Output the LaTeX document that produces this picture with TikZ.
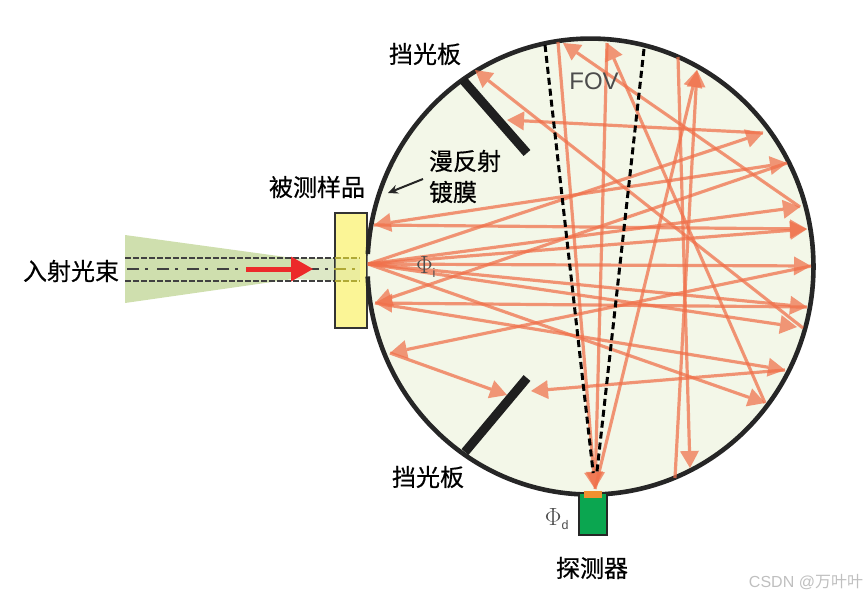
\documentclass[tikz,border=0pt]{standalone}
\usepackage{fontspec}
\setmainfont{Liberation Sans}
\newfontfamily\cjk[RawFeature={embolden=0.5}]{Noto Sans CJK SC}
\newfontfamily\cjkplain{Noto Sans CJK SC}
\usetikzlibrary{arrows.meta, positioning}
\definecolor{raycol}{HTML}{F0704A}
\definecolor{wallcol}{HTML}{262626}
\definecolor{spherecol}{HTML}{F3F7E8}
\definecolor{beamcol}{HTML}{CFDFAE}
\definecolor{samplecol}{HTML}{FBF596}
\definecolor{sensorcol}{HTML}{0BA650}
\definecolor{stripcol}{HTML}{F09030}
\definecolor{redcol}{HTML}{EC2A2A}
\tikzset{
  lbl/.style={inner sep=0pt, font=\fontsize{24}{28}\selectfont\cjk, text=black},
  sym/.style={inner sep=0pt, font=\fontsize{25}{28}\selectfont, text=black!70},
  wall/.style={draw=wallcol, line width=4.6pt},
  baffle/.style={draw=black!88, line width=9pt},
  ray/.style={draw=raycol, line width=3.2pt, draw opacity=.72, fill=raycol, fill opacity=.72,
              >={Triangle[length=17pt,width=19pt,line width=0pt]}},
  fov/.style={draw=black, line width=3pt, dash pattern=on 7pt off 4pt},
  guide/.style={draw=black!75, line width=2.6pt, dash pattern=on 6pt off 2pt},
  axisline/.style={line width=2.6pt, dash pattern=on 12pt off 6pt on 3pt off 9pt},
  sample/.style={draw=black!80, fill=samplecol, line width=2pt, minimum width=32pt,
                 minimum height=115pt, inner sep=0pt},
  sensor/.style={draw=black!85, fill=sensorcol, line width=2pt, minimum width=28pt,
                 minimum height=42pt, inner sep=0pt},
  strip/.style={fill=stripcol, minimum width=18pt, minimum height=7pt, inner sep=0pt}
}
\begin{document}
\begin{tikzpicture}[x=1pt, y=-1pt]
  \useasboundingbox (0,0) rectangle (865,597);
  \coordinate (s) at (368,264);
  \coordinate (d) at (595,489);
  \foreach \n/\x/\y in {pA/563/43, pB/607/43, pC/697/70, pD/678/57, pE/475/70, pF/507/120,
      pG/763/133, pH/787/163, pI/800/207, pJ/807/229, pK/811/266, pL/807/307, pM/803/328,
      pM2/797/327, pN/785/370, pO/765/403, pP/690/468, pQ/675/478, pR/531/391, pS/507/395,
      pT/390/353, pU/375/303, pV/374/225, pW/558/42, fovL/545/45, fovR/644/49,
      bafA/463/80, bafB/527/153, bafC/527/378, bafD/465/452, coat/388/193, coatEnd/423/179,
      bmA/125/235, bmB/293/258, bmC/335/258, bmD/335/281, bmE/293/279, bmF/125/303,
      gdA/125/258, gdB/125/281, gdC/335/258, gdD/335/281, gdE/360/258, gdF/360/281,
      axA/127/269, axB/360/269, redA/246/269, redB/313/269}
    \coordinate (\n) at (\x,\y);
  \fill[beamcol] (bmA) -- (bmB) -- (bmC) -- (bmD) -- (bmE) -- (bmF) -- cycle;
  \fill[white, opacity=.3] (bmB) rectangle (bmD);
  \draw[guide] (gdA) -- (gdC);
  \draw[guide] (gdB) -- (gdD);
  \draw[axisline, draw=black!75] (axA) -- (axB);
  \node[sample] (smp) at (351,270.5) {};
  \fill[beamcol, opacity=.35] (gdC) rectangle (gdF);
  \draw[guide, draw=olive!70] (gdC) -- (gdE);
  \draw[guide, draw=olive!70] (gdD) -- (gdF);
  \draw[axisline, draw=olive!70] (smp.west |- axB) -- (axB);
  \draw[draw=redcol, line width=5pt, -{Triangle[length=22pt,width=25pt,line width=0pt]}] (redA) -- (redB);
  \fill[spherecol] (590.5,266.5) ellipse [x radius=223pt, y radius=228pt];
  \draw[wall] (367.7,276.5) arc [start angle=182.5, end angle=536.85, x radius=223pt, y radius=228pt];
  \foreach \a/\b in {s/pG, s/pI, s/pJ, s/pK, s/pL, s/pM2, s/pO, pG/pF, pI/pA, pV/pJ, pK/pT,
      pL/pU, pM/pE, pO/pB, pU/pN, pN/pR, pT/pS, pH/pU, pW/d, pB/d, d/pC, pD/pP, pQ/pC}
    \draw[ray, ->] (\a) -- (\b);
  \draw[ray, <->] (pV) -- (pH);
  \draw[fov, shorten >=16pt] (fovL) -- (d);
  \draw[fov, shorten >=16pt] (fovR) -- (d);
  \draw[baffle] (bafA) -- (bafB);
  \draw[baffle] (bafC) -- (bafD);
  \draw[draw=black!85, line width=2pt, -{Stealth[length=10pt,width=9pt]}] (coatEnd) -- (coat);
  \node[sensor] (det) at (593,514) {};
  \node[strip] (win) at (593,494.5) {};
  \node[lbl] (bafTop) at (425,54) {挡光板};
  \node[lbl] (bafBot) at (428,477) {挡光板};
  \node[lbl] (coatA) at (465,161) {漫反射};
  \node[lbl] (coatB) at (453,192) {镀膜};
  \node[lbl] (smpName) at (317,187) {被测样品};
  \node[lbl] (inName) at (71,271) {入射光束};
  \node[lbl] (detName) at (592,568) {探测器};
  \node[sym, font=\fontsize{24}{28}\selectfont] (fovName) at (594,81) {FOV};
  \node[sym] (phiI) at (426,267) {$\Phi_{\scriptscriptstyle\mathrm{i}}$};
  \node[sym] (phiD) at (557,519) {$\Phi_{\scriptscriptstyle\mathrm{d}}$};
  \node[inner sep=0pt, text=black!25, font=\fontsize{16}{18}\selectfont] (mark) at (806,582) {CSDN @{\cjkplain 万叶叶}};
\end{tikzpicture}
\end{document}
